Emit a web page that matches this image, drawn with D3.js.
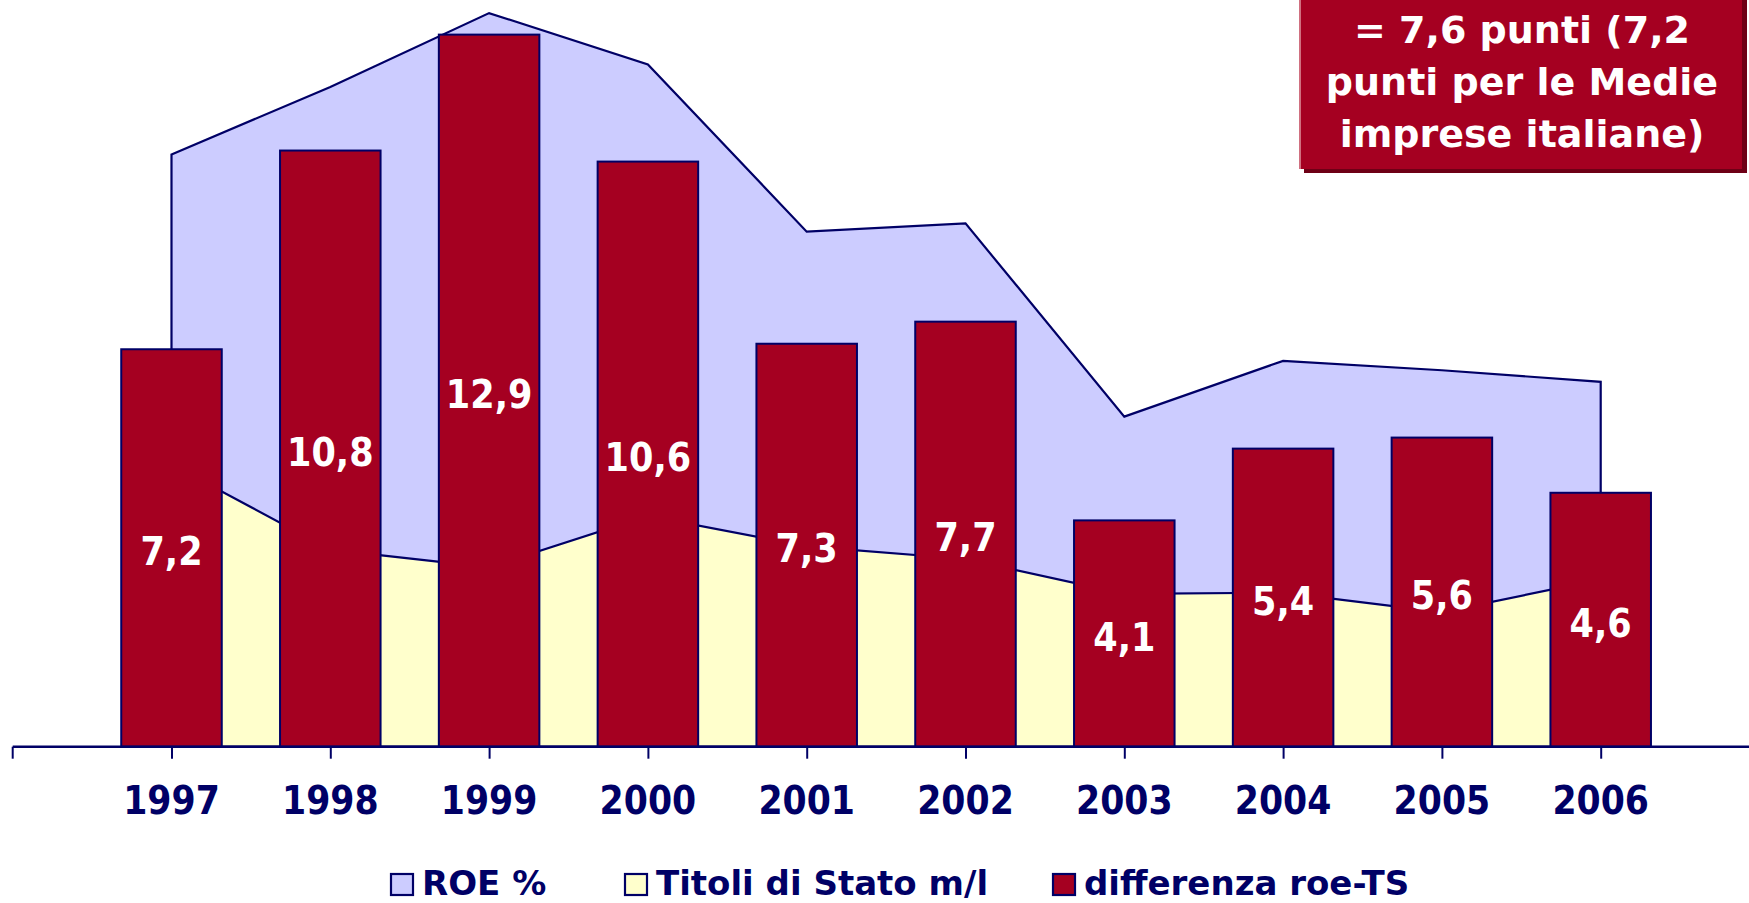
<!DOCTYPE html>
<html>
<head>
<meta charset="utf-8">
<script src="https://cdn.jsdelivr.net/npm/d3@7"></script>
<style>
  body { margin: 0; background: #fff; }
  svg { display: block; }
  text { font-family: "DejaVu Sans", Verdana, sans-serif; font-weight: bold; }
</style>
</head>
<body>
<div id="chart"></div>
<script>
// values
var years = ["1997", "1998", "1999", "2000", "2001", "2002", "2003", "2004", "2005", "2006"];
var roe = [10.73, 11.95, 13.29, 12.36, 9.33, 9.48, 5.98, 6.99, 6.82, 6.61];
var titoli = [5.11, 3.57, 3.25, 4.18, 3.63, 3.40, 2.77, 2.79, 2.44, 3.03];
var differenza = [7.2, 10.8, 12.9, 10.6, 7.3, 7.7, 4.1, 5.4, 5.6, 4.6];
var legendLabels = ["ROE %", "Titoli di Stato m/l", "differenza roe-TS"];
var noteLines = ["= 7,6 punti (7,2", "punti per le Medie", "imprese italiane)"];

var width = 1749, height = 903;
var navy = "#000066";
var colRoe = "#ccccff", colTs = "#ffffcc", colBar = "#a50021";

var svg = d3.select("#chart").append("svg")
    .attr("width", width)
    .attr("height", height);

var x = d3.scalePoint()
    .domain(years)
    .range([171.5, 1600.7]);

var y = d3.scaleLinear()
    .domain([0, 13.5])
    .range([746.7, 1.5]);

var barW = x.step() * 0.633;

// areas
var area = d3.area()
    .x(function(d, i) { return x(years[i]); })
    .y0(y(0))
    .y1(function(d) { return y(d); });

svg.append("path")
    .attr("d", area(roe))
    .style("fill", colRoe)
    .style("stroke", navy)
    .style("stroke-width", 2.2);

svg.append("path")
    .attr("d", area(titoli))
    .style("fill", colTs)
    .style("stroke", navy)
    .style("stroke-width", 2.2);

// bars
svg.append("g").attr("class", "bars").selectAll("rect")
    .data(differenza)
    .join("rect")
    .attr("x", function(d, i) { return x(years[i]) - barW / 2; })
    .attr("y", function(d) { return y(d); })
    .attr("width", barW)
    .attr("height", function(d) { return y(0) - y(d); })
    .style("fill", colBar)
    .style("stroke", navy)
    .style("stroke-width", 2);

// narrow bold text (tahoma-like)
svg.append("g").attr("class", "labels").selectAll("g")
    .data(differenza)
    .join("g")
    .attr("transform", function(d, i) {
        return "translate(" + x(years[i]) + "," + ((y(d) + y(0)) / 2 + 17) + ") scale(0.9,1)";
    })
    .append("text")
    .attr("text-anchor", "middle")
    .style("font-size", "39px")
    .style("fill", "#fff")
    .text(function(d) { return d3.format(".1f")(d).replace(".", ","); });

// x axis
var xAxis = svg.append("g")
    .attr("transform", "translate(0," + y(0) + ")")
    .call(d3.axisBottom(x).tickSize(12).tickFormat(""));
xAxis.select(".domain").remove();
xAxis.selectAll(".tick line").style("stroke", navy).style("stroke-width", 2);

svg.append("line")
    .attr("x1", x(years[0]) - x.step()).attr("x2", x(years[0]) - x.step())
    .attr("y1", y(0)).attr("y2", y(0) + 12)
    .style("stroke", navy).style("stroke-width", 2);
svg.append("line")
    .attr("x1", x(years[0]) - x.step()).attr("x2", width)
    .attr("y1", y(0)).attr("y2", y(0))
    .style("stroke", navy).style("stroke-width", 2.5);

svg.append("g").selectAll("g")
    .data(years)
    .join("g")
    .attr("transform", function(d) { return "translate(" + x(d) + ",814) scale(0.89,1)"; })
    .append("text")
    .attr("text-anchor", "middle")
    .style("font-size", "39px")
    .style("fill", navy)
    .text(function(d) { return d; });

// legend
var legendX = [391, 625, 1053];
var legendCols = [colRoe, colTs, colBar];
var leg = svg.append("g").selectAll("g")
    .data(legendLabels)
    .join("g")
    .attr("transform", function(d, i) { return "translate(" + legendX[i] + ",895)"; });
leg.append("rect")
    .attr("x", 0).attr("y", -21)
    .attr("width", 22).attr("height", 21)
    .style("fill", function(d, i) { return legendCols[i]; })
    .style("stroke", navy).style("stroke-width", 2.2);
leg.append("text")
    .attr("x", 31).attr("y", 0)
    .style("font-size", "34px")
    .style("fill", navy)
    .text(function(d) { return d; });

// note box top right
var note = svg.append("g");
note.append("rect")
    .attr("x", 1304).attr("y", -10)
    .attr("width", 443).attr("height", 183)
    .style("fill", "#6e0016");
note.append("rect")
    .attr("x", 1299).attr("y", -10)
    .attr("width", 443).attr("height", 179)
    .style("fill", colBar);
note.append("line")
    .attr("x1", 1300).attr("x2", 1300)
    .attr("y1", 0).attr("y2", 169)
    .style("stroke", "#d07080").style("stroke-width", 2);
note.selectAll("text")
    .data(noteLines)
    .join("text")
    .attr("x", 1522)
    .attr("y", function(d, i) { return 43 + i * 52; })
    .attr("text-anchor", "middle")
    .style("font-size", "38px")
    .style("fill", "#fff")
    .text(function(d) { return d; });
</script>
</body>
</html>
